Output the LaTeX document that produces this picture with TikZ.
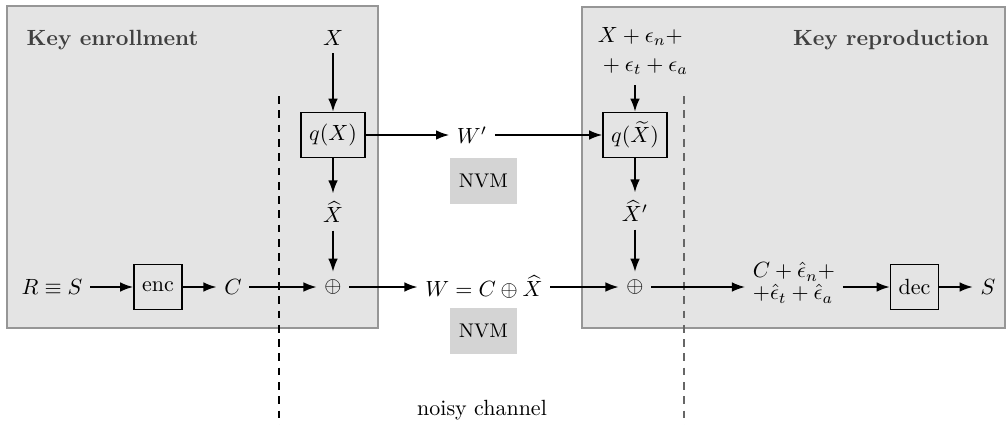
\documentclass[tikz,border=0pt]{standalone}
\usetikzlibrary{arrows.meta}
\definecolor{panelfill}{RGB}{228,228,228}
\definecolor{paneldraw}{RGB}{150,150,150}
\definecolor{nvmfill}{RGB}{212,212,212}
\begin{document}
\begin{tikzpicture}[x=0.4545pt,y=-0.4545pt,
  arr/.style={line width=0.85pt,-{Latex[length=6pt,width=4.4pt]}},
  blk/.style={draw,line width=0.6pt,inner sep=3.7pt,minimum height=20.5pt},
  panel/.style={fill=panelfill,draw=paneldraw,line width=0.6pt},
  nvm/.style={fill=nvmfill,minimum width=30.5pt,minimum height=21pt,font=\small,inner sep=0pt},
  ttl/.style={font=\bfseries,text=black!75},
  sep/.style={line width=0.5pt,dash pattern=on 3.5pt off 3pt}]
\useasboundingbox (0,0) rectangle (1006,425);
\path[panel] (7,6) rectangle (378,328);
\path[panel] (582,7) rectangle (1005,328);
\draw[sep] (279,96) -- (279,425);
\draw[sep,black!60] (684,96) -- (684,425);

\node[ttl] (enr) at (112.5,40) {Key enrollment};
\node[ttl] (rep) at (891,40) {Key reproduction};

\node (X) at (333,38) {$X$};
\node[blk,minimum width=29pt] (qX) at (333,135) {$q(X)$};
\node (Xh) at (333,212) {$\widehat{X}$};
\node (o1) at (333,287) {$\oplus$};
\node (RS) at (52,287) {$R\equiv S$};
\node[blk] (enc) at (158,287) {enc};
\node (C) at (233,287) {$C$};

\node (Wp) at (472,135) {$W'$};
\node[nvm] (nvm1) at (483.5,181) {NVM};
\node (W) at (484,287) {$W=C\oplus\widehat{X}$};
\node[nvm] (nvm2) at (483.5,331) {NVM};
\node (noisy) at (482,410) {noisy channel};

\node[align=left] (Xn) at (643,51) {$X+\epsilon_n+$\\[1pt]${}+\epsilon_t+\epsilon_a$};
\coordinate (xin) at (635,85);
\node[blk,minimum width=29pt] (qXt) at (635,135) {$q(\widetilde{X})$};
\node (Xhp) at (635,211) {$\widehat{X}'$};
\node (o2) at (635,287) {$\oplus$};
\node[align=left] (Ct) at (794,283) {$C+\hat{\epsilon}_n+$\\[-2pt]$+\hat{\epsilon}_t+\hat{\epsilon}_a$};
\node[blk] (dec) at (914.5,287) {dec};
\node (S) at (988,287) {$S$};

\draw[arr] (X) -- (qX);
\draw[arr] (qX) -- (Xh);
\draw[arr] (Xh) -- (o1);
\draw[arr] (RS) -- (enc);
\draw[arr] (enc) -- (C);
\draw[arr] (C) -- (o1);
\draw[arr] (o1) -- (W);
\draw[arr] (qX) -- (Wp);
\draw[arr] (Wp) -- (qXt);
\draw[arr] (xin) -- (qXt);
\draw[arr] (qXt) -- (Xhp);
\draw[arr] (Xhp) -- (o2);
\draw[arr] (W) -- (o2);
\draw[arr] (o2) -- (Ct.west |- o2);
\draw[arr] (Ct.east |- dec) -- (dec);
\draw[arr] (dec) -- (S);
\end{tikzpicture}
\end{document}
